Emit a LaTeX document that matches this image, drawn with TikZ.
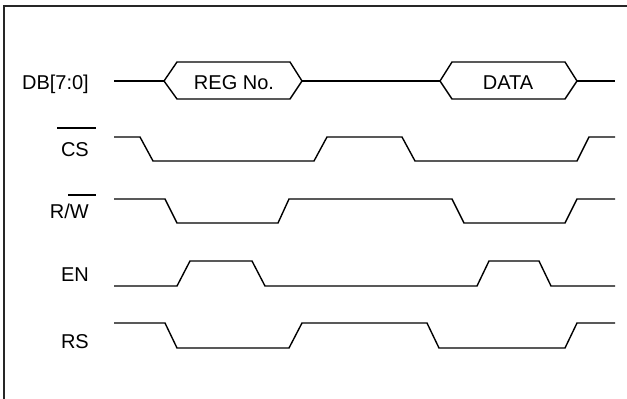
\documentclass[tikz,border=0pt]{standalone}
\usepackage{fontspec}
\setmainfont{Liberation Sans}
\begin{document}
\begin{tikzpicture}[x=1pt,y=-1pt,
  sig/.style={line width=1.4pt,line join=miter},
  lbl/.style={anchor=base east,inner sep=0pt,font=\fontsize{20}{24}\selectfont},
  hextext/.style={anchor=base,inner sep=0pt,font=\fontsize{20}{24}\selectfont},
  ovl/.style={line width=1.4pt}]
\useasboundingbox (0,0) rectangle (627,399);
\begin{scope}
\clip (0,0) rectangle (627,399);
\draw[line width=1.6pt,black!85] (4,420) -- (4,6) -- (640,6);
\end{scope}
% labels
\node[lbl] (db) at (89,89) {DB[7:0]};
\node[lbl] (cs) at (89,156) {CS};
\node[lbl] (rw) at (89,218) {R/W};
\node[lbl] (en) at (89,281) {EN};
\node[lbl] (rs) at (89,348) {RS};
\draw[ovl] (57,128) -- (96,128);
\draw[ovl] (68,195) -- (96,195);
% DB bus
\node[hextext] (reg) at (234,89) {REG No.};
\node[hextext] (data) at (508,89) {DATA};
\draw[sig] (114,81) -- (164,81);
\draw[sig] (164,81) -- (177,62) -- (290,62) -- (302,81) -- (290,99) -- (177,99) -- cycle;
\draw[sig] (302,81) -- (440,81);
\draw[sig] (440,81) -- (452,62) -- (565,62) -- (577,81) -- (565,99) -- (452,99) -- cycle;
\draw[sig] (577,81) -- (615,81);
% CS
\draw[sig] (114,137) -- (140,137) -- (153,161) -- (314,161) -- (327,137) -- (402,137) -- (415,161) -- (577,161) -- (589,137) -- (615,137);
% R/W
\draw[sig] (114,199) -- (165,199) -- (177,223) -- (278,223) -- (289,199) -- (452,199) -- (464,223) -- (565,223) -- (577,199) -- (615,199);
% EN
\draw[sig] (114,286) -- (177,286) -- (190,261) -- (252,261) -- (265,286) -- (477,286) -- (489,261) -- (539,261) -- (551,286) -- (615,286);
% RS
\draw[sig] (114,323) -- (165,323) -- (177,348) -- (289,348) -- (302,323) -- (427,323) -- (439,348) -- (565,348) -- (577,323) -- (615,323);
\end{tikzpicture}
\end{document}
